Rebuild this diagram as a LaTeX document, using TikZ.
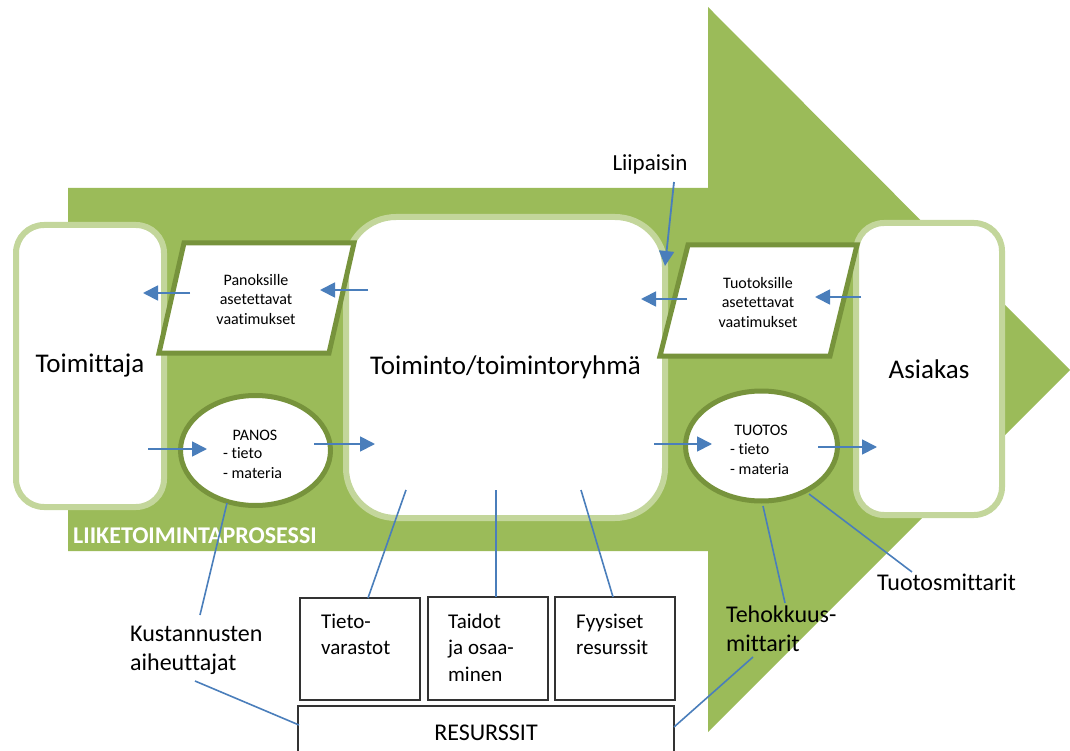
\documentclass[tikz,border=0pt]{standalone}
\usepackage{fontspec}
\setmainfont{Carlito}[Ligatures=NoCommon]
\usetikzlibrary{arrows.meta,shapes.geometric}
\definecolor{arrowgreen}{HTML}{9BBB59}
\definecolor{palegreen}{HTML}{C3D69B}
\definecolor{darkgreen}{HTML}{77933C}
\definecolor{linkblue}{HTML}{4A7EBB}

\begin{document}
\begin{tikzpicture}[x=1pt,y=-1pt,
  softbox/.style={draw=palegreen, line width=6pt, fill=white, rounded corners=#1, inner sep=0pt},
  softbox/.default=28pt,
  reqshape/.style={draw=darkgreen, line width=5pt, fill=white, line join=miter},
  flowoval/.style={ellipse, draw=darkgreen, line width=5pt, fill=white, inner sep=0pt},
  resbox/.style={draw=black!80, line width=1.4pt, fill=white, inner sep=0pt},
  flowarrow/.style={draw=linkblue, line width=1.8pt, -{Triangle[length=15pt,width=15pt]}},
  leader/.style={draw=linkblue, line width=1.6pt},
  bigtext/.style={font=\fontsize{27}{32}\selectfont},
  labeltext/.style={font=\fontsize{24}{29}\selectfont, align=left, inner sep=0pt},
  boxtext/.style={font=\fontsize{21}{26.5}\selectfont, align=left, inner sep=0pt},
  smalltext/.style={font=\fontsize{16}{19.3}\selectfont, inner sep=0pt},
]
\useasboundingbox (0,0) rectangle (1070,751);
\clip (0,0) rectangle (1070,751);

% large process arrow in the background
\fill[arrowgreen] (68,188) -- (708,188) -- (708,7) -- (1070,370) -- (708,732)
  -- (708,551) -- (68,551) -- cycle;
\node[anchor=base west, inner sep=0pt, text=white,
  font=\fontsize{24}{28}\selectfont\bfseries] (process) at (73,543) {LIIKETOIMINTAPROSESSI};

% supplier, activity and customer
\node[softbox, minimum width=148pt, minimum height=282pt, bigtext] (supplier) at (90,366) {Toimittaja};
\node[softbox=50pt, minimum width=319pt, minimum height=301pt, bigtext] (activity) at (505.5,367.5) {Toiminto/toimintoryhmä};
\node[softbox, minimum width=146pt, minimum height=292pt, bigtext] (customer) at (929,369) {Asiakas};

% requirement parallelograms (multi-line texts are anchored at their last baseline)
\draw[reqshape] (184,243) -- (354,243) -- (329,353) -- (159,353) -- cycle;
\node[smalltext, align=center, anchor=base] (inreq) at (256,324) {Panoksille\\asetettavat\\vaatimukset};
\draw[reqshape] (688,245) -- (857,245) -- (830,356) -- (660,356) -- cycle;
\node[smalltext, align=center, anchor=base] (outreq) at (758,327) {Tuotoksille\\asetettavat\\vaatimukset};

% input and output ovals
\node[flowoval, minimum width=150pt, minimum height=110pt] (input) at (255.5,450.5) {};
\node[smalltext, anchor=base] (inputhead) at (255,440) {PANOS};
\node[smalltext, align=left, anchor=base west] (inputlist) at (223,478) {- tieto\\- materia};
\node[flowoval, minimum width=152pt, minimum height=110pt] (output) at (761.5,446) {};
\node[smalltext, anchor=base] (outputhead) at (761,435) {TUOTOS};
\node[smalltext, align=left, anchor=base west] (outputlist) at (730,474) {- tieto\\- materia};

% resources
\node[resbox, minimum width=120pt, minimum height=102pt] (storage) at (360,649) {};
\node[boxtext, anchor=base west] (storagetext) at (321,654.5) {Tieto-\\varastot};
\node[resbox, minimum width=120pt, minimum height=103pt] (skills) at (488,648.5) {};
\node[boxtext, anchor=base west] (skillstext) at (448,681) {Taidot\\ja osaa-\\minen};
\node[resbox, minimum width=120pt, minimum height=103pt] (physical) at (615,648.5) {};
\node[boxtext, anchor=base west] (physicaltext) at (576,654.5) {Fyysiset\\resurssit};
\node[resbox, minimum width=376pt, minimum height=54pt, font=\fontsize{24}{28}\selectfont] (resources) at (486,733) {RESURSSIT};

% free labels
\node[labeltext, anchor=base, font=\fontsize{23}{28}\selectfont] (trigger) at (650,171) {Liipaisin};
\node[labeltext, anchor=base west] (costs) at (130,670) {Kustannusten\\aiheuttajat};
\node[labeltext, anchor=base west] (efficiency) at (726,651) {Tehokkuus-\\mittarit};
\node[labeltext, anchor=base west] (outputmeters) at (877,590) {Tuotosmittarit};

% arrow end points
\coordinate (a1s) at (190,293); \coordinate (a1e) at (143,293);
\coordinate (a2s) at (368,290); \coordinate (a2e) at (320,290);
\coordinate (a3s) at (148,449); \coordinate (a3e) at (207,449);
\coordinate (a4s) at (314,444); \coordinate (a4e) at (375,444);
\coordinate (a5s) at (674,182); \coordinate (a5e) at (665,266);
\coordinate (a6s) at (687,299); \coordinate (a6e) at (641,299);
\coordinate (a7s) at (861,297); \coordinate (a7e) at (815,297);
\coordinate (a8s) at (654,444); \coordinate (a8e) at (712,444);
\coordinate (a9s) at (818,447); \coordinate (a9e) at (877,447);

\draw[flowarrow] (a1s) -- (a1e);
\draw[flowarrow] (a2s) -- (a2e);
\draw[flowarrow] (a3s) -- (a3e);
\draw[flowarrow] (a4s) -- (a4e);
\draw[flowarrow] (a5s) -- (a5e);
\draw[flowarrow] (a6s) -- (a6e);
\draw[flowarrow] (a7s) -- (a7e);
\draw[flowarrow] (a8s) -- (a8e);
\draw[flowarrow] (a9s) -- (a9e);

% leader lines
\coordinate (l1a) at (406,490); \coordinate (l1b) at (368,598);
\coordinate (l2a) at (496,490); \coordinate (l2b) at (496,597);
\coordinate (l3a) at (581,490); \coordinate (l3b) at (613,597);
\coordinate (l4a) at (227,503); \coordinate (l4b) at (200,615);
\coordinate (l5a) at (195,681); \coordinate (l5b) at (299,725);
\coordinate (l6a) at (763,506); \coordinate (l6b) at (785,603);
\coordinate (l7a) at (809,494); \coordinate (l7b) at (912,572);
\coordinate (l8a) at (753,657); \coordinate (l8b) at (674,727);

\draw[leader] (l1a) -- (l1b);
\draw[leader] (l2a) -- (l2b);
\draw[leader] (l3a) -- (l3b);
\draw[leader] (l4a) -- (l4b);
\draw[leader] (l5a) -- (l5b);
\draw[leader] (l6a) -- (l6b);
\draw[leader] (l7a) -- (l7b);
\draw[leader] (l8a) -- (l8b);
\end{tikzpicture}
\end{document}
